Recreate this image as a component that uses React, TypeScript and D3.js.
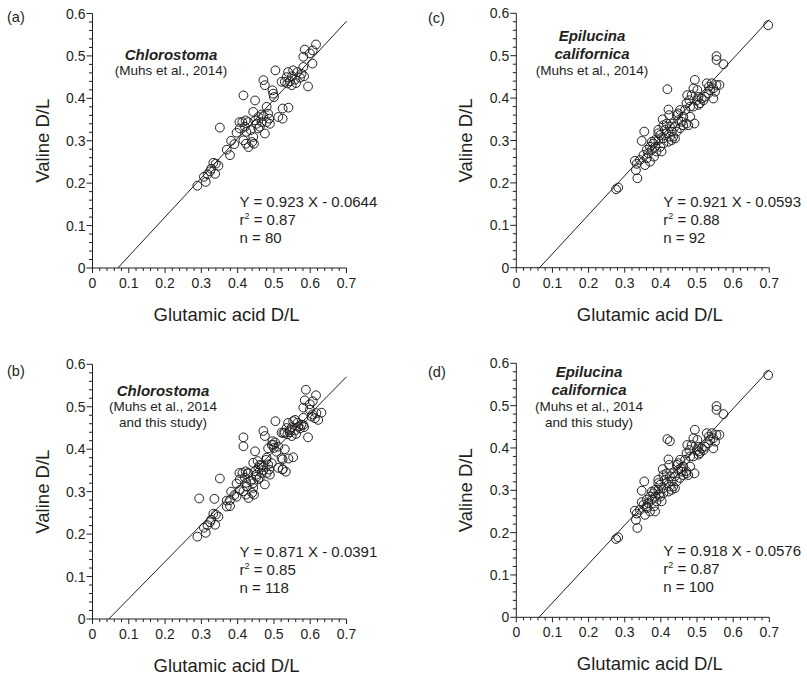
import React from 'react';
import * as d3 from 'd3';

// tick labels
const xTickValues = [0, 0.1, 0.2, 0.3, 0.4, 0.5, 0.6, 0.7];
const yTickValues = [0, 0.1, 0.2, 0.3, 0.4, 0.5, 0.6];

// (a) Chlorostoma, Muhs et al. 2014 — glutamic acid D/L, valine D/L
const chloroMuhs: [number, number][] = [
  [0.289, 0.194], [0.307, 0.215], [0.312, 0.203], [0.317, 0.221], [0.327, 0.234],
  [0.333, 0.248], [0.340, 0.246], [0.338, 0.222], [0.347, 0.241], [0.324, 0.228],
  [0.351, 0.331], [0.370, 0.279], [0.379, 0.266], [0.382, 0.300], [0.391, 0.292],
  [0.397, 0.319], [0.405, 0.344], [0.416, 0.407], [0.413, 0.344], [0.422, 0.348],
  [0.429, 0.344], [0.416, 0.301], [0.420, 0.333], [0.430, 0.285], [0.423, 0.293],
  [0.436, 0.325], [0.440, 0.297], [0.445, 0.293], [0.443, 0.309], [0.448, 0.395],
  [0.443, 0.368], [0.452, 0.340], [0.457, 0.356], [0.461, 0.333], [0.466, 0.344],
  [0.471, 0.443], [0.475, 0.431], [0.471, 0.358], [0.475, 0.317], [0.480, 0.380],
  [0.484, 0.364], [0.487, 0.352], [0.480, 0.344], [0.496, 0.419], [0.498, 0.411],
  [0.500, 0.403], [0.504, 0.466], [0.512, 0.356], [0.524, 0.352], [0.524, 0.376],
  [0.540, 0.378], [0.535, 0.450], [0.530, 0.439], [0.539, 0.462], [0.544, 0.440],
  [0.550, 0.452], [0.553, 0.466], [0.558, 0.444], [0.549, 0.431], [0.565, 0.462],
  [0.572, 0.449], [0.576, 0.458], [0.583, 0.452], [0.581, 0.474], [0.594, 0.428],
  [0.606, 0.482], [0.581, 0.498], [0.585, 0.515], [0.607, 0.513], [0.616, 0.527],
  [0.599, 0.506], [0.406, 0.329], [0.424, 0.321], [0.457, 0.329], [0.448, 0.348],
  [0.466, 0.362], [0.489, 0.340], [0.521, 0.439], [0.537, 0.435], [0.561, 0.436],
];

// (b) extra Chlorostoma samples from this study
const chloroThisStudy: [number, number][] = [
  [0.294, 0.284], [0.336, 0.283], [0.588, 0.540], [0.631, 0.486], [0.613, 0.473],
  [0.622, 0.469], [0.416, 0.428], [0.533, 0.347], [0.553, 0.381], [0.524, 0.353],
  [0.530, 0.400], [0.484, 0.402], [0.494, 0.410], [0.503, 0.416], [0.512, 0.406],
  [0.479, 0.375], [0.494, 0.367], [0.521, 0.379], [0.443, 0.320], [0.452, 0.335],
  [0.429, 0.343], [0.406, 0.304], [0.379, 0.280], [0.370, 0.265], [0.526, 0.438],
  [0.544, 0.445], [0.567, 0.453], [0.581, 0.457], [0.558, 0.469], [0.599, 0.493],
  [0.617, 0.485], [0.471, 0.351], [0.461, 0.363], [0.425, 0.312], [0.397, 0.288],
  [0.507, 0.394], [0.604, 0.477], [0.455, 0.372],
];

// (c) Epilucina californica, Muhs et al. 2014
const epiMuhs: [number, number][] = [
  [0.697, 0.572], [0.554, 0.499], [0.554, 0.490], [0.573, 0.480], [0.276, 0.185],
  [0.282, 0.189], [0.335, 0.211], [0.331, 0.230], [0.328, 0.252], [0.333, 0.245],
  [0.354, 0.321], [0.347, 0.299], [0.418, 0.421], [0.421, 0.373], [0.423, 0.360],
  [0.393, 0.325], [0.405, 0.350], [0.402, 0.274], [0.370, 0.250], [0.361, 0.258],
  [0.356, 0.242], [0.365, 0.270], [0.375, 0.278], [0.384, 0.285], [0.388, 0.274],
  [0.379, 0.293], [0.393, 0.301], [0.398, 0.313], [0.407, 0.305], [0.416, 0.317],
  [0.425, 0.309], [0.430, 0.321], [0.434, 0.309], [0.439, 0.333], [0.448, 0.348],
  [0.458, 0.344], [0.448, 0.364], [0.462, 0.356], [0.471, 0.340], [0.476, 0.336],
  [0.467, 0.372], [0.471, 0.388], [0.473, 0.407], [0.479, 0.395], [0.490, 0.423],
  [0.494, 0.443], [0.493, 0.340], [0.485, 0.407], [0.499, 0.395], [0.504, 0.403],
  [0.508, 0.388], [0.513, 0.399], [0.522, 0.403], [0.527, 0.435], [0.536, 0.419],
  [0.541, 0.435], [0.545, 0.399], [0.550, 0.415], [0.562, 0.431], [0.533, 0.427],
  [0.481, 0.380], [0.453, 0.372], [0.444, 0.360], [0.434, 0.340], [0.425, 0.333],
  [0.411, 0.325], [0.407, 0.336], [0.416, 0.340], [0.384, 0.301], [0.375, 0.297],
  [0.370, 0.285], [0.361, 0.278], [0.352, 0.266], [0.342, 0.254], [0.381, 0.262],
  [0.398, 0.285], [0.407, 0.293], [0.430, 0.301], [0.444, 0.321], [0.453, 0.329],
  [0.462, 0.336], [0.439, 0.305], [0.421, 0.297], [0.481, 0.356], [0.490, 0.380],
  [0.504, 0.384], [0.518, 0.395], [0.531, 0.411], [0.545, 0.423], [0.554, 0.431],
  [0.501, 0.419], [0.393, 0.317],
];

// (d) extra Epilucina samples from this study
const epiThisStudy: [number, number][] = [
  [0.425, 0.416], [0.384, 0.250], [0.360, 0.262], [0.455, 0.352],
  [0.470, 0.345], [0.395, 0.290], [0.505, 0.392], [0.347, 0.272],
];

const font = '"Liberation Sans", Arial, Helvetica, sans-serif';
const ink = '#231f20';

type PanelProps = {
  label: string;
  data: [number, number][];
  slope: number;
  intercept: number;
  eq: string;
  r2: string;
  n: number;
  title: string[];
  cite: string[];
  left: number;
  right: number;
  top: number;
  bottom: number;
  labelX: number;
  labelY: number;
  titleX: number;
  titleY: number[];
  citeY: number[];
  eqY: number;
};

const Panel = (props: PanelProps) => {
  const { label, data, slope, intercept, eq, r2, n, title, cite,
    left, right, top, bottom, labelX, labelY, titleX, titleY, citeY, eqY } = props;

  const x = d3.scaleLinear().domain([0, 0.7]).range([left, right]);
  const y = d3.scaleLinear().domain([0, 0.6]).range([bottom, top]);

  // minor ticks every 0.02, majors every 0.1
  const xMinor = d3.range(0, 36).map(i => i * 0.02);
  const yMinor = d3.range(0, 31).map(i => i * 0.02);

  const x0 = -intercept / slope;
  const fitLine = d3.line<number>()
    .x(d => x(d))
    .y(d => y(slope * d + intercept))([x0, 0.7]);

  return (
    <g>
      <text x={labelX} y={labelY} fontSize={14.5} fontFamily={font} fill={ink}>{label}</text>

      <path d={`M ${left} ${top} V ${bottom} H ${right}`} stroke={ink} fill="none" strokeWidth={1} />
      {xMinor.map((v, i) => (
        <line key={'xm' + i} x1={x(v)} x2={x(v)} y1={bottom} y2={bottom + (i % 5 === 0 ? 5 : 3)} stroke={ink} />
      ))}
      {yMinor.map((v, i) => (
        <line key={'ym' + i} x1={left} x2={left - (i % 5 === 0 ? 6 : 3.5)} y1={y(v)} y2={y(v)} stroke={ink} />
      ))}
      {xTickValues.map(v => (
        <text key={'xt' + v} x={x(v)} y={bottom + 20} fontSize={14} fontFamily={font} fill={ink} textAnchor="middle">{String(v)}</text>
      ))}
      {yTickValues.map(v => (
        <text key={'yt' + v} x={left - 7} y={y(v) + 5} fontSize={14} fontFamily={font} fill={ink} textAnchor="end">{String(v)}</text>
      ))}
      <text x={(left + right) / 2 + 7} y={bottom + 53} fontSize={18.5} fontFamily={font} fill={ink} textAnchor="middle">Glutamic acid D/L</text>
      <text transform={`translate(${left - 44}, ${(top + bottom) / 2}) rotate(-90)`} fontSize={18.5} fontFamily={font} fill={ink} textAnchor="middle">Valine D/L</text>

      <path d={fitLine || ''} stroke={ink} strokeWidth={1} fill="none" />

      {data.map((d, i) => (
        <circle key={i} cx={x(d[0])} cy={y(d[1])} r={4.4} fill="none" stroke={ink} strokeWidth={1} />
      ))}

      {title.map((t, i) => (
        <text key={'t' + i} x={titleX} y={titleY[i]} fontSize={15} fontWeight="bold" fontStyle="italic" fontFamily={font} fill={ink} textAnchor="middle">{t}</text>
      ))}
      {cite.map((t, i) => (
        <text key={'c' + i} x={titleX} y={citeY[i]} fontSize={13.5} fontFamily={font} fill={ink} textAnchor="middle">{t}</text>
      ))}

      <text x={left + 147} y={eqY} fontSize={15} fontFamily={font} fill={ink}>{eq}</text>
      <text x={left + 147} y={eqY + 18} fontSize={15} fontFamily={font} fill={ink}>
        r<tspan fontSize={9} dy={-6}>2</tspan><tspan dy={6}>{' = ' + r2}</tspan>
      </text>
      <text x={left + 147} y={eqY + 36} fontSize={15} fontFamily={font} fill={ink}>{'n = ' + n}</text>
    </g>
  );
};

const App = () => {
  const chloroAll = chloroMuhs.concat(chloroThisStudy);
  const epiAll = epiMuhs.concat(epiThisStudy);

  return (
    <svg width={807} height={675} style={{ position: 'absolute', left: 0, top: 0, background: '#fff' }}>
      <Panel label="(a)" data={chloroMuhs} slope={0.923} intercept={-0.0644}
        eq="Y = 0.923 X - 0.0644" r2="0.87" n={80}
        title={['Chlorostoma']} cite={['(Muhs et al., 2014)']}
        left={92.5} right={346.5} top={13.5} bottom={268} labelX={7} labelY={22}
        titleX={171} titleY={[60]} citeY={[75]} eqY={207} />
      <Panel label="(b)" data={chloroAll} slope={0.871} intercept={-0.0391}
        eq="Y = 0.871 X - 0.0391" r2="0.85" n={118}
        title={['Chlorostoma']} cite={['(Muhs et al., 2014', 'and this study)']}
        left={92.5} right={346.5} top={364.3} bottom={619} labelX={7} labelY={376}
        titleX={163} titleY={[395.5]} citeY={[410.5, 426.5]} eqY={556.7} />
      <Panel label="(c)" data={epiMuhs} slope={0.921} intercept={-0.0593}
        eq="Y = 0.921 X - 0.0593" r2="0.88" n={92}
        title={['Epilucina', 'californica']} cite={['(Muhs et al., 2014)']}
        left={516.3} right={769.3} top={13.3} bottom={267.7} labelX={428} labelY={23}
        titleX={592} titleY={[40.5, 59]} citeY={[75]} eqY={207} />
      <Panel label="(d)" data={epiAll} slope={0.918} intercept={-0.0576}
        eq="Y = 0.918 X - 0.0576" r2="0.87" n={100}
        title={['Epilucina', 'californica']} cite={['(Muhs et al., 2014', 'and this study)']}
        left={516.3} right={769.3} top={363.3} bottom={617.3} labelX={428} labelY={377}
        titleX={589} titleY={[377, 395]} citeY={[411, 427]} eqY={555.7} />
    </svg>
  );
};

export default App;
